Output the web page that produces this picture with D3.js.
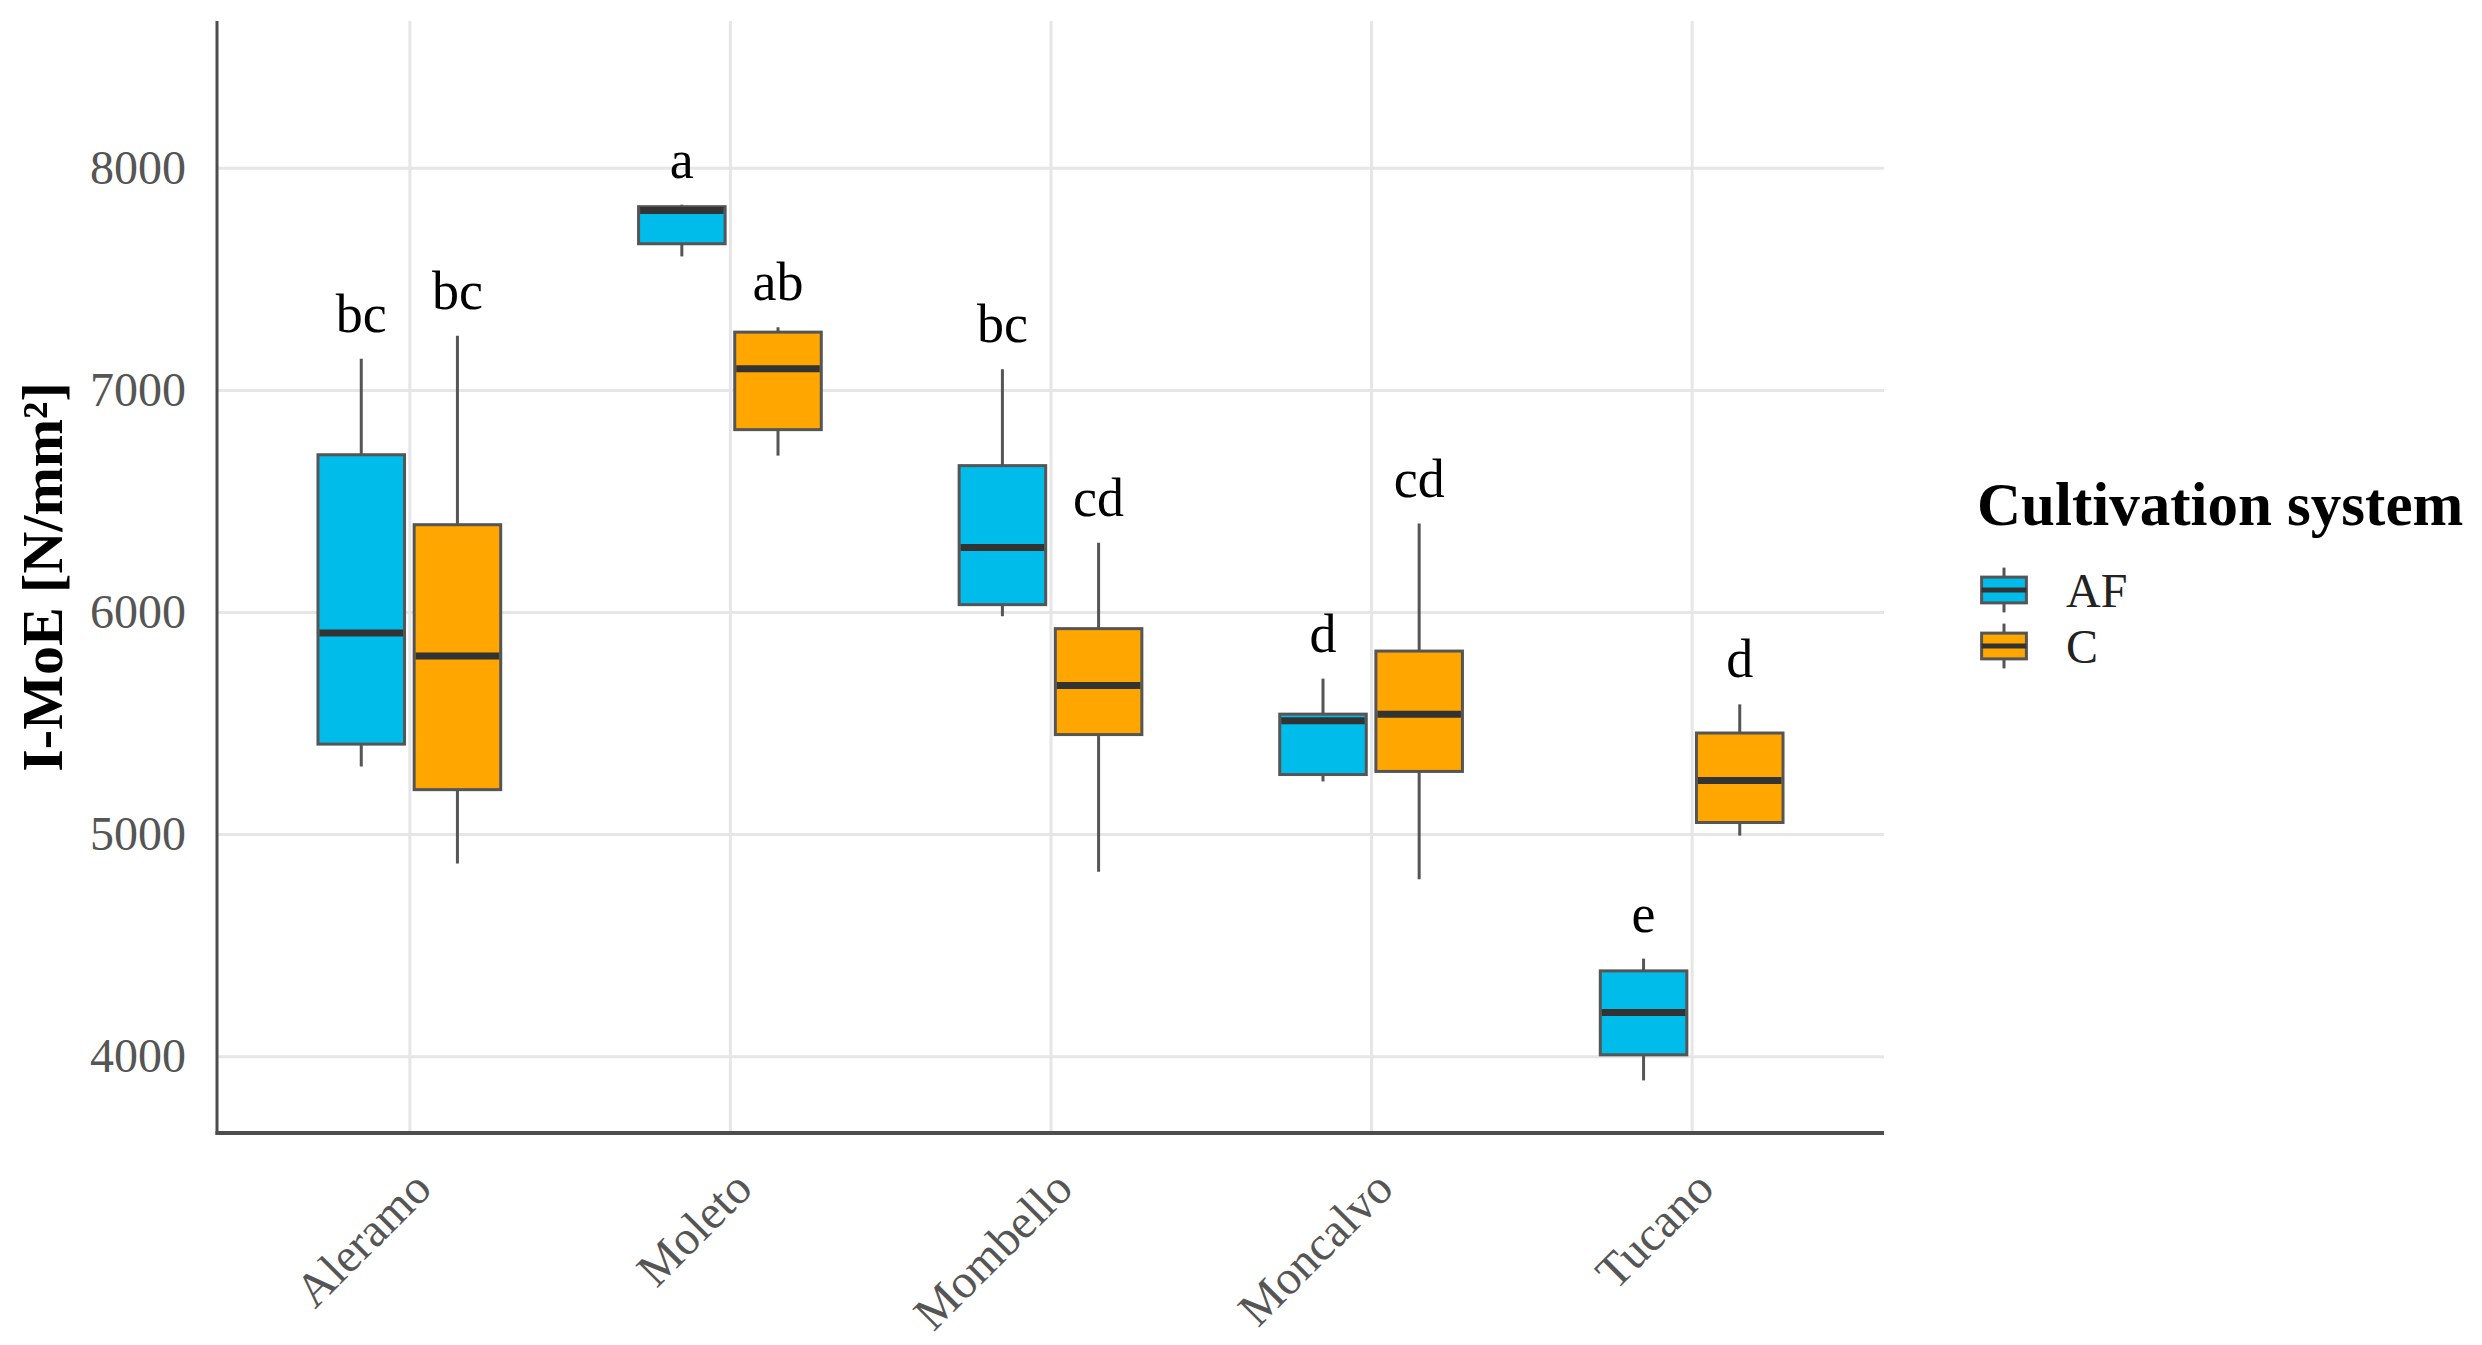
<!DOCTYPE html>
<html lang="en">
<head>
<meta charset="UTF-8">
<title>I-MoE boxplot</title>
<script src="https://d3js.org/d3.v7.min.js"></script>
<style>
  body { margin: 0; background: #fff; }
  svg text { font-family: "Liberation Serif", "Times New Roman", serif; }
</style>
</head>
<body>
<div id="container"></div>
<script>
    // categories and groups
    var sites = ["Aleramo", "Moleto", "Mombello", "Moncalvo", "Tucano"];
    var systems = ["AF", "C"];

    // [lower whisker, Q1, median, Q3, upper whisker] per site
    var statsAF = [
        [5304, 5405, 5905, 6708, 7140],
        [7601, 7658, 7808, 7825, 7834],
        [5981, 6033, 6290, 6659, 7093],
        [5237, 5268, 5510, 5540, 5700],
        [3891, 4006, 4197, 4384, 4439]
    ];
    var statsC = [
        [4868, 5200, 5802, 6393, 7244],
        [6704, 6821, 7095, 7260, 7282],
        [4830, 5448, 5669, 5925, 6312],
        [4796, 5282, 5540, 5824, 6398],
        [4993, 5052, 5241, 5455, 5584]
    ];
    // significance letters
    var lettersAF = ["bc", "a", "bc", "d", "e"];
    var lettersC = ["bc", "ab", "cd", "cd", "d"];

    var yTicks = [4000, 5000, 6000, 7000, 8000];
    var colors = { AF: "#00BCEA", C: "#FFA600" };

    var W = 2482, H = 1345;
    // panel edges (note: "top" is taken by window.top)
    var pLeft = 217, pRight = 1884, pTop = 21, pBottom = 1133;

    var svg = d3.select("#container").append("svg")
        .attr("width", W).attr("height", H);

    var x = d3.scalePoint().domain(sites).range([pLeft, pRight]).padding(0.6);
    var step = x.step();
    var sub = d3.scaleBand().domain(systems).range([-0.3 * step, 0.3 * step]);
    var boxW = sub.bandwidth() * 0.9;

    var y = d3.scaleLinear().domain([3654, 8661]).range([pBottom, pTop]);

    // grid via axes
    var gy = svg.append("g")
        .attr("transform", "translate(" + pLeft + ",0)")
        .call(d3.axisLeft(y).tickValues(yTicks).tickSize(-(pRight - pLeft)).tickPadding(31).tickFormat(d3.format("d")));
    gy.select(".domain").remove();
    gy.selectAll("line").attr("stroke", "#e6e6e6").attr("stroke-width", 3);
    gy.selectAll("text").attr("font-size", 48).attr("fill", "#555");

    var gx = svg.append("g")
        .attr("transform", "translate(0," + pBottom + ")")
        .call(d3.axisBottom(x).tickSize(-(pBottom - pTop)));
    gx.select(".domain").remove();
    gx.selectAll("line").attr("stroke", "#e6e6e6").attr("stroke-width", 3);
    gx.selectAll("text")
        .attr("font-size", 48).attr("fill", "#555")
        .attr("text-anchor", "end")
        .attr("y", 0).attr("dy", 0)
        .attr("transform", "translate(24,58) rotate(-45)");

    // axis lines
    svg.append("line").attr("x1", pLeft).attr("x2", pLeft).attr("y1", pTop).attr("y2", pBottom + 1.5)
        .attr("stroke", "#4d4d4d").attr("stroke-width", 3);
    svg.append("line").attr("x1", pLeft - 1.5).attr("x2", pRight).attr("y1", pBottom).attr("y2", pBottom)
        .attr("stroke", "#4d4d4d").attr("stroke-width", 4);

    // build rows
    var rows = [];
    sites.forEach(function (s, i) {
        rows.push({ site: s, sys: "AF", st: statsAF[i], lab: lettersAF[i] });
        rows.push({ site: s, sys: "C", st: statsC[i], lab: lettersC[i] });
    });

    var g = svg.append("g").selectAll("g").data(rows).enter().append("g")
        .attr("transform", function (d) {
            return "translate(" + (x(d.site) + sub(d.sys) + sub.bandwidth() / 2) + ",0)";
        });

    g.append("line")
        .attr("y1", function (d) { return y(d.st[0]); })
        .attr("y2", function (d) { return y(d.st[4]); })
        .attr("stroke", "#555").attr("stroke-width", 3);

    g.append("rect")
        .attr("x", -boxW / 2).attr("width", boxW)
        .attr("y", function (d) { return y(d.st[3]); })
        .attr("height", function (d) { return y(d.st[1]) - y(d.st[3]); })
        .attr("fill", function (d) { return colors[d.sys]; })
        .attr("stroke", "#555").attr("stroke-width", 3);

    g.append("line")
        .attr("x1", -boxW / 2 + 1.5).attr("x2", boxW / 2 - 1.5)
        .attr("y1", function (d) { return y(d.st[2]); })
        .attr("y2", function (d) { return y(d.st[2]); })
        .attr("stroke", "#333").attr("stroke-width", 7);

    g.append("text")
        .attr("y", function (d) { return y(d.st[4]) - 27; })
        .attr("text-anchor", "middle")
        .attr("font-size", 54).attr("fill", "#000")
        .text(function (d) { return d.lab; });

    // y title
    svg.append("text")
        .attr("transform", "translate(62," + ((pTop + pBottom) / 2) + ") rotate(-90)")
        .attr("text-anchor", "middle")
        .attr("font-size", 58).attr("font-weight", "bold").attr("fill", "#000")
        .text("I-MoE [N/mm²]");

    // legend
    var lg = svg.append("g").attr("transform", "translate(1976,0)");
    lg.append("text").attr("x", 1).attr("y", 525)
        .attr("font-size", 61).attr("font-weight", "bold").attr("fill", "#000")
        .text("Cultivation system");

    var key = 56;
    var items = lg.selectAll("g.item").data(systems).enter().append("g")
        .attr("class", "item")
        .attr("transform", function (d, i) { return "translate(0," + (562 + i * key) + ")"; });
    items.append("line")
        .attr("x1", key / 2).attr("x2", key / 2)
        .attr("y1", key * 0.1).attr("y2", key * 0.9)
        .attr("stroke", "#555").attr("stroke-width", 3);
    items.append("rect")
        .attr("x", key * 0.1).attr("width", key * 0.8)
        .attr("y", key * 0.27).attr("height", key * 0.46)
        .attr("fill", function (d) { return colors[d]; })
        .attr("stroke", "#555").attr("stroke-width", 3);
    items.append("line")
        .attr("x1", key * 0.1).attr("x2", key * 0.9)
        .attr("y1", key / 2).attr("y2", key / 2)
        .attr("stroke", "#333").attr("stroke-width", 5);
    items.append("text")
        .attr("x", 90).attr("y", key / 2 + 17)
        .attr("font-size", 48).attr("fill", "#222")
        .text(function (d) { return d; });
</script>
</body>
</html>
